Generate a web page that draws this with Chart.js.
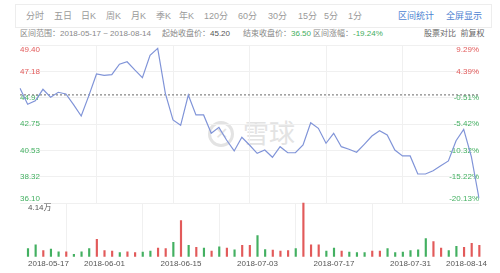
<!DOCTYPE html>
<html lang="zh-CN">
<head>
<meta charset="UTF-8">
<title>区间走势</title>
<script src="https://cdn.jsdelivr.net/npm/chart.js"></script>
<style>
    body { margin: 0; width: 500px; height: 273px; background: #fff; overflow: hidden; position: relative;
           font-family: "Liberation Sans", "Noto Sans CJK SC", sans-serif; }
    .toolbar { position: absolute; left: 15px; top: 4px; width: 477px; height: 24px; border: 1px solid #ededed; box-sizing: border-box; }
    .toolbar span { position: absolute; top: 5px; font-size: 9px; line-height: 12px; color: #9a9a9a; white-space: nowrap; }
    .toolbar span.lnk { color: #4d7fd1; }
    .info span { position: absolute; top: 28px; font-size: 8px; line-height: 11px; color: #888; white-space: nowrap; }
    .info b { font-weight: normal; color: #555; }
    .info b.dn { color: #3fae5c; }
    .wm { position: absolute; left: 208px; top: 121px; width: 28px; height: 28px; }
    .wm .ring { position: absolute; left: 0; top: 0; width: 20px; height: 20px; border: 3px solid #e3e3e3; border-radius: 50%; }
    .wm .x { position: absolute; left: 0; top: 1px; width: 26px; text-align: center; font-size: 16px; line-height: 24px; color: #e3e3e3; }
    .wmtxt { position: absolute; left: 243px; top: 115px; font-size: 26px; line-height: 34px; color: #e3e3e3; font-family: "Noto Sans CJK SC", sans-serif; }
    canvas { position: absolute; left: 0; top: 0; }
</style>
</head>
<body>

<div class="toolbar">
    <span style="left:10px">分时</span>
    <span style="left:38px">五日</span>
    <span style="left:65px">日K</span>
    <span style="left:90px">周K</span>
    <span style="left:115px">月K</span>
    <span style="left:140px">季K</span>
    <span style="left:163px">年K</span>
    <span style="left:188px">120分</span>
    <span style="left:222px">60分</span>
    <span style="left:252px">30分</span>
    <span style="left:282px">15分</span>
    <span style="left:308px">5分</span>
    <span style="left:332px">1分</span>
    <span class="lnk" style="left:382px">区间统计</span>
    <span class="lnk" style="left:430px">全屏显示</span>
</div>

<div class="info">
    <span style="left:20px">区间范围：2018-05-17 ~ 2018-08-14</span>
    <span style="left:162px">起始收盘价：<b>45.20</b></span>
    <span style="left:243px">结束收盘价：<b class="dn">36.50</b></span>
    <span style="left:313px">区间涨幅：<b class="dn">-19.24%</b></span>
    <span style="left:424px; color:#666">股票对比&nbsp;&nbsp;前复权</span>
</div>

<div class="wm"><div class="ring"></div><div class="x">✕</div></div>
<div class="wmtxt">雪球</div>

<canvas id="grafPreco" width="500" height="273"></canvas>
<canvas id="grafVolume" width="500" height="273"></canvas>

<script>
    // dados
    const dates = [
        '2018-05-17', '2018-05-21', '2018-05-22', '2018-05-23', '2018-05-24', '2018-05-25', '2018-05-28', '2018-05-29', '2018-05-30', '2018-05-31',
        '2018-06-01', '2018-06-04', '2018-06-05', '2018-06-06', '2018-06-07', '2018-06-08', '2018-06-11', '2018-06-12', '2018-06-13', '2018-06-14',
        '2018-06-15', '2018-06-19', '2018-06-20', '2018-06-21', '2018-06-22', '2018-06-25', '2018-06-26', '2018-06-27', '2018-06-28', '2018-06-29',
        '2018-07-03', '2018-07-04', '2018-07-05', '2018-07-06', '2018-07-09', '2018-07-10', '2018-07-11', '2018-07-12', '2018-07-13', '2018-07-16',
        '2018-07-17', '2018-07-18', '2018-07-19', '2018-07-20', '2018-07-23', '2018-07-24', '2018-07-25', '2018-07-26', '2018-07-27', '2018-07-30',
        '2018-07-31', '2018-08-01', '2018-08-02', '2018-08-03', '2018-08-06', '2018-08-07', '2018-08-08', '2018-08-09', '2018-08-10', '2018-08-13',
        '2018-08-14'
    ];

    const closes = [
        45.76, 44.41, 44.71, 45.67, 45.00, 45.42, 45.28, 44.38, 43.42, 45.14,
        46.96, 46.85, 46.90, 47.78, 47.99, 47.30, 46.65, 48.53, 49.12, 45.33,
        43.09, 42.64, 45.19, 43.51, 43.51, 41.97, 42.47, 41.40, 40.48, 41.63,
        40.98, 40.28, 40.56, 39.95, 40.84, 40.33, 40.33, 40.98, 42.86, 42.39,
        41.13, 41.97, 40.84, 40.62, 40.37, 41.04, 41.74, 42.19, 41.82, 40.56,
        40.06, 40.06, 38.54, 38.54, 38.82, 39.24, 39.64, 41.34, 42.30, 40.00,
        36.50
    ];

    // volume em 万
    const volumes = [
        0.60, 0.89, 0.46, 0.56, 0.36, 0.36, 0.17, 0.36, 0.60, 1.33,
        0.46, 0.41, 0.29, 0.36, 0.29, 0.34, 0.41, 0.65, 0.60, 1.09,
        2.78, 0.85, 0.70, 0.65, 0.41, 0.75, 0.65, 0.51, 0.85, 0.85,
        1.62, 0.53, 0.49, 0.41, 0.46, 0.60, 4.14, 0.89, 0.89, 0.41,
        0.65, 0.41, 0.34, 0.29, 0.29, 0.41, 0.41, 0.60, 0.29, 0.34,
        0.46, 0.51, 1.38, 1.14, 0.65, 0.46, 0.78, 0.70, 1.02, 0.85,
        null
    ];

    // 1 = vermelho (alta), 0 = verde (baixa)
    const volUp = [
        0, 0, 1, 0, 0, 1, 0, 0, 0, 1,
        1, 1, 0, 1, 1, 0, 0, 1, 1, 0,
        1, 0, 1, 0, 1, 0, 1, 0, 1, 1,
        0, 0, 1, 1, 1, 0, 1, 1, 1, 0,
        0, 1, 0, 0, 0, 1, 1, 0, 0, 0,
        0, 0, 0, 1, 1, 0, 0, 1, 1, 1,
        0
    ];

    const priceTicks = [36.10, 38.32, 40.53, 42.75, 44.97, 47.18, 49.40];
    const pctTicks = ['-20.13%', '-15.22%', '-10.32%', '-5.42%', '-0.51%', '4.39%', '9.29%'];
    const refPrice = 45.20;
    const volMax = 4.14;

    const vermelho = '#e25a5a';
    const verde = '#43b061';
    const corGrade = '#f0f0f0';

    Chart.defaults.font.family = '"Liberation Sans", "Noto Sans CJK SC", sans-serif';

    function soDezenas(scale) {
        scale.ticks = scale.ticks.filter(t => t.value % 10 === 0);
    }

    function corGradeX(ctx) {
        var v = ctx.tick ? ctx.tick.value : 0;
        return (v === 0 || v === dates.length - 1) ? 'rgba(0,0,0,0)' : corGrade;
    }

    function rotuloBorda(texto, value) {
        if (value === priceTicks[priceTicks.length - 1]) return ['', texto];
        if (value === priceTicks[0]) return [texto, ''];
        return texto;
    }

    new Chart(document.getElementById('grafPreco'), {
        type: 'line',
        data: {
            labels: dates,
            datasets: [
                {
                    data: closes,
                    borderColor: '#8094d8',
                    borderWidth: 1.2,
                    pointRadius: 0,
                    tension: 0
                },
                {
                    data: dates.map(() => refPrice),
                    borderColor: '#666',
                    borderWidth: 1,
                    borderDash: [2, 2],
                    pointRadius: 0
                }
            ]
        },
        options: {
            responsive: false,
            animation: false,
            layout: { padding: { left: 20, right: 13, top: 45, bottom: 70 } },
            plugins: { legend: { display: false }, tooltip: { enabled: false } },
            scales: {
                x: {
                    offset: false,
                    afterBuildTicks: soDezenas,
                    ticks: { display: false },
                    border: { display: false },
                    grid: { drawTicks: false, color: corGradeX }
                },
                y: {
                    position: 'left',
                    min: priceTicks[0],
                    max: priceTicks[priceTicks.length - 1],
                    afterBuildTicks: s => { s.ticks = priceTicks.map(v => ({ value: v })); },
                    border: { display: false },
                    grid: { drawTicks: false, color: corGrade },
                    ticks: {
                        mirror: true,
                        padding: 0,
                        autoSkip: false,
                        font: { size: 8, lineHeight: 1.1 },
                        color: ctx => ctx.tick.value > refPrice ? vermelho : verde,
                        callback: value => rotuloBorda(value.toFixed(2), value)
                    }
                },
                y2: {
                    position: 'right',
                    min: priceTicks[0],
                    max: priceTicks[priceTicks.length - 1],
                    afterBuildTicks: s => { s.ticks = priceTicks.map(v => ({ value: v })); },
                    border: { display: false },
                    grid: { display: false },
                    ticks: {
                        mirror: true,
                        padding: 0,
                        autoSkip: false,
                        font: { size: 8, lineHeight: 1.1 },
                        color: ctx => ctx.tick.value > refPrice ? vermelho : verde,
                        callback: value => rotuloBorda(pctTicks[priceTicks.indexOf(value)], value)
                    }
                }
            }
        }
    });

    new Chart(document.getElementById('grafVolume'), {
        type: 'bar',
        data: {
            labels: dates,
            datasets: [{
                data: volumes,
                backgroundColor: volUp.map(u => u ? vermelho : verde),
                barThickness: 1.5,
                clip: 3
            }]
        },
        options: {
            responsive: false,
            animation: false,
            layout: { padding: { left: 20, right: 13, top: 203, bottom: 1 } },
            plugins: { legend: { display: false }, tooltip: { enabled: false } },
            scales: {
                x: {
                    offset: false,
                    afterBuildTicks: soDezenas,
                    border: { display: false },
                    grid: { drawTicks: false, color: corGradeX },
                    ticks: {
                        align: 'inner',
                        autoSkip: false,
                        maxRotation: 0,
                        padding: 3,
                        color: '#555',
                        font: { size: 8 }
                    }
                },
                y: {
                    min: 0,
                    max: volMax,
                    afterBuildTicks: s => { s.ticks = [{ value: volMax }]; },
                    border: { display: false },
                    grid: { display: false },
                    ticks: {
                        mirror: true,
                        padding: 0,
                        color: '#555',
                        font: { size: 8, lineHeight: 1.2 },
                        callback: value => ['', value.toFixed(2) + '万']
                    }
                }
            }
        }
    });
</script>
</body>
</html>
